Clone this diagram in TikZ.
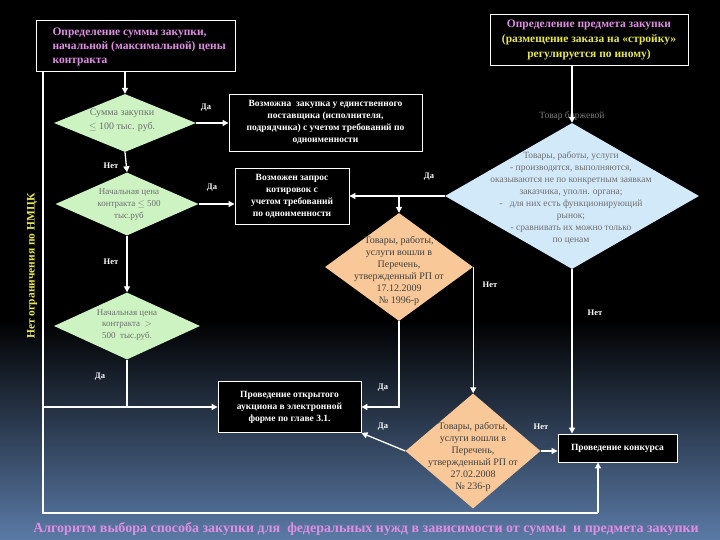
\documentclass[tikz,border=0pt]{standalone}
\usepackage{fontspec}
\setmainfont{Liberation Serif}
\usetikzlibrary{shapes.geometric,arrows.meta}
\definecolor{pinkt}{HTML}{E08EE4}
\definecolor{yelt}{HTML}{E8E84A}
\definecolor{greenf}{HTML}{CDF3C3}
\definecolor{bluef}{HTML}{D2E9FA}
\definecolor{orangef}{HTML}{F8C898}
\definecolor{grayt}{HTML}{6E6E6E}
\definecolor{bgblue}{HTML}{5A7AA6}
\tikzset{
  wbox/.style={draw=white, line width=0.9pt, fill=black, text=white, font=\bfseries\fontsize{9.5}{12}\selectfont, align=center, inner sep=2pt},
  dshape/.style={diamond, inner sep=0pt, draw=none},
  dtext/.style={text=grayt, font=\fontsize{9.5}{12}\selectfont, align=center, inner sep=0pt},
  otext/.style={text=black!75, font=\fontsize{10}{12}\selectfont, align=center, inner sep=0pt},
  lbl/.style={text=white, font=\bfseries\fontsize{8.5}{10}\selectfont, inner sep=0pt},
  wline/.style={draw=white, line width=1.3pt},
  arr/.style={wline, -{Triangle[length=6pt,width=6pt]}},
}
\begin{document}
\begin{tikzpicture}[x=1pt,y=-1pt]
\useasboundingbox (0,0) rectangle (720,540);
\fill[black] (0,0) rectangle (720,320);
\shade[top color=black, bottom color=bgblue] (0,319.5) rectangle (720,540);

% top boxes
\node[draw=white, line width=0.9pt, minimum width=199pt, minimum height=51pt, inner sep=0pt] (b1) at (135.5,45.5) {};
\node[text=pinkt, font=\bfseries\fontsize{11.5}{14}\selectfont, align=left, anchor=west] (b1t) at (49,47) {Определение суммы закупки,\\начальной (максимальной) цены\\контракта};
\node[draw=white, line width=0.9pt, minimum width=198pt, minimum height=51pt, inner sep=0pt, font=\bfseries\fontsize{11.5}{15}\selectfont, align=center] (b2) at (589,39.5) {\textcolor{pinkt}{Определение предмета закупки}\\\textcolor{yelt}{(размещение заказа на «стройку»}\\\textcolor{yelt}{регулируется по иному)}};

% diamonds
\node[dshape, fill=greenf, minimum width=142pt, minimum height=58pt] (d1) at (125,123) {};
\node[dtext, font=\fontsize{10}{14}\selectfont] (d1t) at (122,120) {Сумма закупки\\$\leq$ 100 тыс. руб.};
\node[dshape, fill=greenf, minimum width=143pt, minimum height=63pt] (d2) at (127,204) {};
\node[dtext, font=\fontsize{9}{12}\selectfont] (d2t) at (129,205) {Начальная цена\\контракта $\leq$ 500\\тыс.руб};
\node[dshape, fill=greenf, minimum width=146pt, minimum height=67pt] (d3) at (127,326) {};
\node[dtext, font=\fontsize{9}{11.5}\selectfont] (d3t) at (127,325) {Начальная цена\\контракта \ $>$\\500 \ тыс.руб.};

\node[dshape, fill=bluef, minimum width=254pt, minimum height=146pt] (bd) at (572,196) {};
\node[dtext] (bdt) at (571,198) {Товары, работы, услуги\\- производятся, выполняются,\\оказываются не по конкретным заявкам\\заказчика, уполн. органа;\\- \ \ для них есть функционирующий\\рынок;\\- сравнивать их можно только\\по ценам};

\node[dshape, fill=orangef, minimum width=148pt, minimum height=108pt] (o1) at (399,267) {};
\node[otext] (o1t) at (399,271) {Товары, работы,\\услуги вошли в\\Перечень,\\утвержденный РП от\\17.12.2009\\№ 1996-р};
\node[dshape, fill=orangef, minimum width=135pt, minimum height=115pt] (o2) at (473,451) {};
\node[otext] (o2t) at (473,457) {Товары, работы,\\услуги вошли в\\Перечень,\\утвержденный РП от\\27.02.2008\\№ 236-р};

% white boxes
\node[wbox, minimum width=193pt, minimum height=57pt] (b3) at (325.5,122.5) {Возможна \ закупка у единственного\\поставщика (исполнителя,\\подрядчика) с учетом требований по\\одноименности};
\node[wbox, minimum width=114pt, minimum height=56pt] (b4) at (292,196) {Возможен запрос\\котировок с\\учетом требований\\по одноименности};
\node[wbox, minimum width=143pt, minimum height=51pt] (b5) at (289.5,407) {Проведение открытого\\аукциона в электронной\\форме по главе 3.1.};
\node[wbox, minimum width=119pt, minimum height=28pt] (b6) at (617.5,448) {Проведение конкурса};

% label under box2
\node[text=grayt!90, font=\fontsize{9.5}{11}\selectfont, inner sep=0pt] (tb) at (572,116) {Товар биржевой};

% coordinates
\coordinate (lt) at (43,71);
\coordinate (lb) at (43,513);
\coordinate (rb) at (598,513);
\coordinate (j1) at (399,196);

% connectors
\draw[arr] (d1.north |- b1.south) -- (d1.north);
\draw[arr] (d1.east) -- (d1.east -| b3.west);
\draw[arr] (d1.south) -- (d2.north);
\draw[arr] (d2.east) -- (d2.east -| b4.west);
\draw[arr] (d2.south) -- (d3.north);
\draw[wline] (d3.south) -- (d3.south |- b5.west);
\draw[arr] (lt |- b5.west) -- (b5.west);
\draw[wline] (lt) -- (lb) -- (rb);
\draw[arr] (rb) -- (rb |- b6.south);
\draw[arr] (bd.north |- b2.south) -- (bd.north);
\draw[arr] (bd.west) -- (bd.west -| b4.east);
\draw[arr] (j1) -- (o1.north);
\draw[arr] (o1.east) -- (o1.east |- o2.north);
\draw[arr] (o1.south) |- (b5.east);
\draw[arr] (o2.west) -- (b5.south east);
\draw[arr] (o2.east) -- (o2.east -| b6.west);
\draw[arr] (bd.south) -- (bd.south |- b6.north);

% labels
\node[lbl] (l1) at (206,108) {Да};
\node[lbl] (l2) at (111,166) {Нет};
\node[lbl] (l3) at (212,188) {Да};
\node[lbl] (l4) at (111,262) {Нет};
\node[lbl] (l5) at (429,177) {Да};
\node[lbl] (l6) at (490,285) {Нет};
\node[lbl] (l7) at (595,313) {Нет};
\node[lbl] (l8) at (100,377) {Да};
\node[lbl] (l9) at (383,388) {Да};
\node[lbl] (l10) at (383,427) {Да};
\node[lbl] (l11) at (541,427) {Нет};

\node[rotate=90, text=yelt, font=\bfseries\fontsize{11.5}{13}\selectfont, inner sep=0pt] (vt) at (32,266) {Нет ограничения по НМЦК};

\node[text=pinkt, font=\bfseries\fontsize{14}{16}\selectfont, inner sep=0pt] (cap) at (366,529) {Алгоритм выбора способа закупки для \ федеральных нужд в зависимости от суммы \ и предмета закупки};
\end{tikzpicture}
\end{document}
